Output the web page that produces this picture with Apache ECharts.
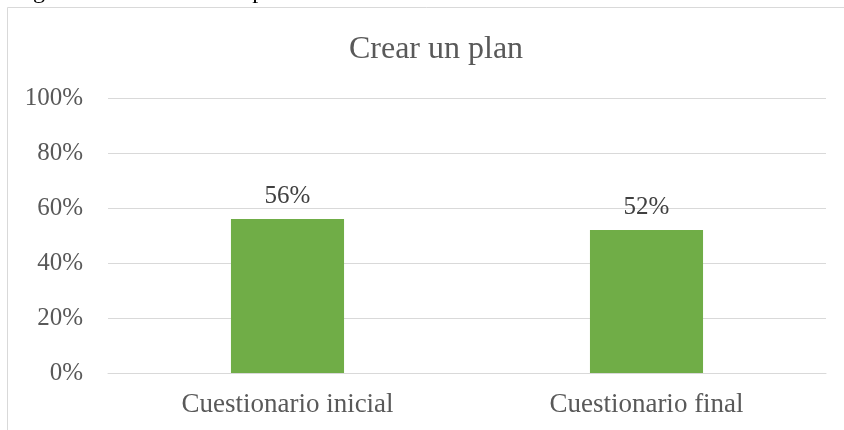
<!DOCTYPE html>
<html>
<head>
<meta charset="utf-8">
<script src="https://cdn.jsdelivr.net/npm/echarts@6/dist/echarts.min.js"></script>
<style>html,body{margin:0;padding:0;background:#fff;}#c{width:844px;height:430px;}</style>
</head>
<body>
<div id="c"></div>
<script>
var categories = ['Cuestionario inicial', 'Cuestionario final'];
var values = [0.56, 0.52];
var yTicks = [0, 0.2, 0.4, 0.6, 0.8, 1.0];
var titleText = 'Crear un plan';
var captionText = 'Figura 5. Resultados del primer indicador';

var F = '"Liberation Serif", "Times New Roman", serif';
var chart = echarts.init(document.getElementById('c'), null, {renderer: 'canvas'});
chart.setOption({
  animation: false,
  backgroundColor: '#fff',
  title: [{
    text: titleText, left: 431, top: 29, textAlign: 'center',
    textStyle: {fontFamily: F, fontSize: 32, fontWeight: 'normal', color: '#595959'}
  }, {
    text: captionText, left: 13, top: -20, padding: 0,
    textStyle: {fontFamily: F, fontSize: 24, fontWeight: 'normal', color: '#000', lineHeight: 24}
  }],
  graphic: [
    {type: 'rect', shape: {x: 7.5, y: 7.5, width: 900, height: 500}, style: {fill: 'none', stroke: '#d9d9d9', lineWidth: 1}, silent: true, z: -1}
  ],
  grid: {left: 108, right: 18, top: 98, bottom: 57, containLabel: false},
  xAxis: {
    type: 'category', data: categories,
    axisLine: {show: true, lineStyle: {color: '#d9d9d9', width: 1}},
    axisTick: {show: false},
    axisLabel: {fontFamily: F, fontSize: 27, color: '#595959', margin: 18}
  },
  yAxis: {
    type: 'value', min: yTicks[0], max: yTicks[yTicks.length - 1], interval: 0.2,
    axisLine: {show: false}, axisTick: {show: false},
    splitLine: {lineStyle: {color: '#d9d9d9', width: 1}},
    axisLabel: {fontFamily: F, fontSize: 25, color: '#595959', margin: 25,
      formatter: function (v) { return Math.round(v * 100) + '%'; }}
  },
  series: [{
    type: 'bar', data: values, barWidth: '31.5%',
    itemStyle: {color: '#70ad47'},
    label: {show: true, position: 'top', distance: 10, fontFamily: F, fontSize: 25, color: '#404040',
      formatter: function (p) { return Math.round(p.value * 100) + '%'; }}
  }]
});
</script>
</body>
</html>
